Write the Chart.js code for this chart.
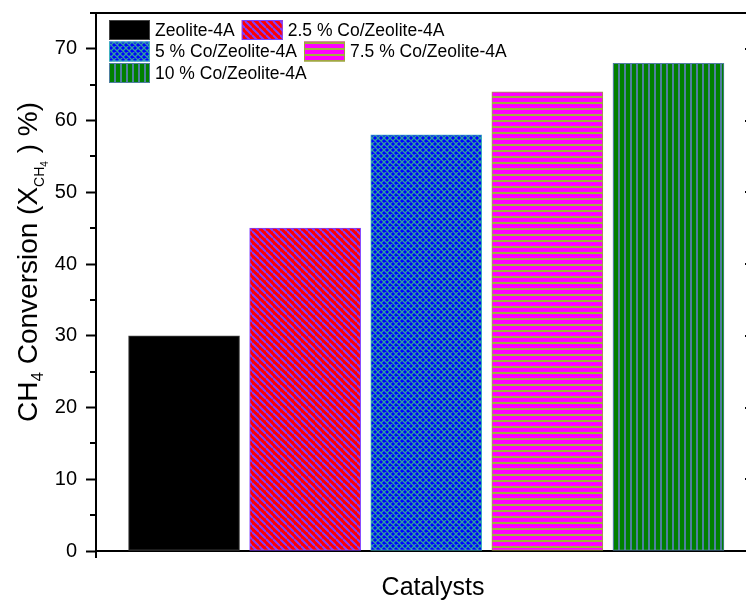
<!DOCTYPE html>
<html>
<head>
<meta charset="utf-8">
<script src="https://cdn.jsdelivr.net/npm/chart.js@4.4.1/dist/chart.umd.min.js"></script>
<style>
  html, body { margin: 0; padding: 0; background: #fff; overflow: hidden; }
  #wrap { width: 800px; height: 601px; }
</style>
</head>
<body>
<div id="wrap"><canvas id="chart" width="800" height="601"></canvas></div>
<script>
// data
const catalysts = ['Zeolite-4A', '2.5 % Co/Zeolite-4A', '5 % Co/Zeolite-4A', '7.5 % Co/Zeolite-4A', '10 % Co/Zeolite-4A'];
const positions = [1, 2, 3, 4, 5];
const conversion = [30, 45, 58, 64, 68];
const yTicks = [0, 10, 20, 30, 40, 50, 60, 70];

const FONT = '"Liberation Sans", Arial, sans-serif';
const canvas = document.getElementById('chart');
const mainCtx = canvas.getContext('2d');

function makePattern(w, h, draw) {
  const c = document.createElement('canvas');
  c.width = w; c.height = h;
  const g = c.getContext('2d');
  draw(g, w, h);
  return mainCtx.createPattern(c, 'repeat');
}

// red with "\" purple lines
const redDiag = makePattern(7, 7, (g, w, h) => {
  g.fillStyle = '#ff0000';
  g.fillRect(0, 0, w, h);
  g.strokeStyle = '#8040ff';
  g.lineWidth = 2;
  g.beginPath();
  for (let k = -1; k <= 1; k++) {
    g.moveTo(0, k * h);
    g.lineTo(w, h + k * h);
  }
  g.stroke();
});

// blue with teal crosshatch
const blueHatch = makePattern(6, 6, (g, w, h) => {
  g.fillStyle = '#0000ff';
  g.fillRect(0, 0, w, h);
  g.strokeStyle = '#30a0a0';
  g.lineWidth = 1.3;
  g.beginPath();
  for (let k = -1; k <= 1; k++) {
    g.moveTo(0, k * h); g.lineTo(w, h + k * h);
    g.moveTo(0, h + k * h); g.lineTo(w, k * h);
  }
  g.stroke();
});

// magenta with horizontal olive lines
const magentaLines = makePattern(6, 6, (g, w, h) => {
  g.fillStyle = '#ff00ff';
  g.fillRect(0, 0, w, h);
  g.fillStyle = '#a0b040';
  g.fillRect(0, 0, w, 2);
});

// green with vertical steel blue lines
const greenLines = makePattern(6, 6, (g, w, h) => {
  g.fillStyle = '#008000';
  g.fillRect(0, 0, w, h);
  g.fillStyle = '#4f7fa0';
  g.fillRect(0, 0, 2, h);
});

const fills = ['#000000', redDiag, blueHatch, magentaLines, greenLines];
const borders = ['#444444', '#8040ff', '#40b0c0', '#a0a040', '#4f7fa0'];

const datasets = catalysts.map((name, i) => ({
  label: name,
  data: [{ x: positions[i], y: conversion[i] }],
  backgroundColor: fills[i],
  borderColor: borders[i],
  borderWidth: 1,
  borderSkipped: false,
  barThickness: 111
}));

// frame, minor ticks, legend, axis titles
const extras = {
  id: 'extras',
  afterDraw(chart) {
    const { ctx, chartArea } = chart;
    const { left, right, top, bottom } = chartArea;
    const y = chart.scales.y;
    ctx.save();
    ctx.strokeStyle = '#000';
    ctx.lineWidth = 2;
    ctx.beginPath();
    ctx.moveTo(left - 1, top); ctx.lineTo(right + 1, top);
    ctx.moveTo(right, top); ctx.lineTo(right, bottom);
    ctx.moveTo(left, bottom); ctx.lineTo(left, bottom + 7);
    for (let v = 0; v <= 75; v += 5) {
      const py = Math.round(y.getPixelForValue(v));
      const major = v % 10 === 0;
      if (!major) { ctx.moveTo(left, py); ctx.lineTo(left - 6, py); }
      ctx.moveTo(right, py); ctx.lineTo(right - (major ? 11 : 6), py);
    }
    ctx.stroke();

    // legend
    ctx.font = '17.5px ' + FONT;
    ctx.textBaseline = 'middle';
    ctx.textAlign = 'left';
    const rows = [[0, 1], [2, 3], [4]];
    rows.forEach((row, r) => {
      let x = left + 13;
      const by = 20 + r * 21.5;
      row.forEach(i => {
        const ds = chart.data.datasets[i];
        ctx.fillStyle = ds.backgroundColor;
        ctx.fillRect(x, by, 41, 20);
        ctx.strokeStyle = ds.borderColor;
        ctx.lineWidth = 1;
        ctx.strokeRect(x + 0.5, by + 0.5, 40, 19);
        ctx.fillStyle = '#000';
        ctx.fillText(ds.label, x + 46, by + 11);
        x += 46 + ctx.measureText(ds.label).width + 7;
      });
    });

    // x title
    ctx.font = '25px ' + FONT;
    ctx.textAlign = 'center';
    ctx.textBaseline = 'alphabetic';
    ctx.fillText('Catalysts', 433, 595);

    // y title with subscripts
    const parts = [
      ['CH', 28, 0], ['4', 17, 6], [' Conversion (X', 28, 0],
      ['CH', 14, 7], ['4', 10, 11], [' ) %)', 28, 0]
    ];
    let total = 0;
    parts.forEach(p => { ctx.font = p[1] + 'px ' + FONT; total += ctx.measureText(p[0]).width; });
    ctx.translate(37, 262);
    ctx.rotate(-Math.PI / 2);
    ctx.textAlign = 'left';
    let tx = -total / 2;
    parts.forEach(p => {
      ctx.font = p[1] + 'px ' + FONT;
      ctx.fillText(p[0], tx, p[2]);
      tx += ctx.measureText(p[0]).width;
    });
    ctx.restore();
  }
};

new Chart(canvas, {
  type: 'bar',
  data: { datasets },
  options: {
    responsive: false,
    animation: false,
    devicePixelRatio: 1,
    layout: { padding: { left: 0, top: 13, right: 44, bottom: 0 } },
    datasets: { bar: { grouped: false } },
    plugins: { legend: { display: false }, tooltip: { enabled: false } },
    scales: {
      x: {
        type: 'linear',
        offset: false,
        min: 0.273,
        max: 5.723,
        ticks: { display: false },
        grid: { display: false },
        border: { display: true, color: '#000', width: 2 },
        afterFit: s => { s.height = 50; s.paddingLeft = 0; s.paddingRight = 0; }
      },
      y: {
        min: 0,
        max: 75,
        ticks: {
          stepSize: 5,
          padding: 9,
          color: '#000',
          font: { family: FONT, size: 20 },
          callback: v => yTicks.includes(v) ? v : ''
        },
        grid: {
          drawOnChartArea: false,
          drawTicks: true,
          tickLength: 10,
          tickWidth: 2,
          tickColor: c => (c.tick && yTicks.includes(c.tick.value)) ? '#000' : 'rgba(0,0,0,0)'
        },
        border: { display: true, color: '#000', width: 2 },
        afterFit: s => { s.width = 96; s.paddingTop = 0; s.paddingBottom = 0; }
      }
    }
  },
  plugins: [extras]
});
</script>
</body>
</html>
